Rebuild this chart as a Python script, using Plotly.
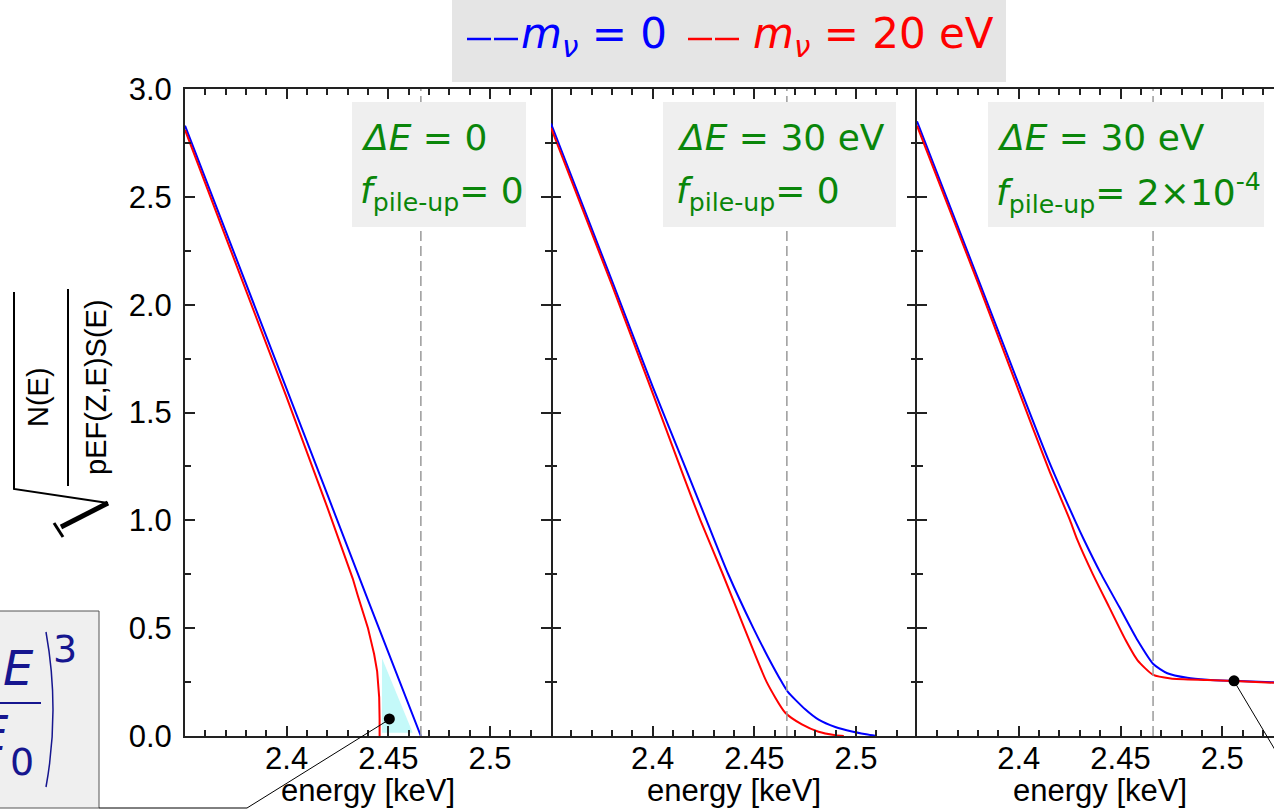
import plotly.graph_objects as go

W, H = 1274, 811

# ---------------- data ----------------
E0 = 2.466                       # endpoint (dashed line)
x_tickvals = [2.35, 2.40, 2.45, 2.50]
x_ticktext = ["", "2.4", "2.45", "2.5"]

# panel 1 : dE = 0, f_pile-up = 0
E1_blue = [2.35, 2.38, 2.40, 2.42, 2.44, 2.466]
K1_blue = [2.83, 2.10, 1.61, 1.12, 0.63, 0.00]
E1_red = [2.35, 2.38, 2.40, 2.42, 2.425, 2.43, 2.4325, 2.435, 2.4375, 2.44, 2.4415,
          2.443, 2.4445, 2.4452, 2.4455, 2.4457, 2.4457]
K1_red = [2.81, 2.07, 1.57, 1.06, 0.93, 0.80, 0.73, 0.65, 0.58, 0.50, 0.44,
          0.38, 0.30, 0.235, 0.18, 0.08, 0.00]
fill1_E = [2.4469, 2.4469, 2.4620, 2.4469]
fill1_K = [0.36, 0.015, 0.015, 0.36]

# panel 2 : dE = 30 eV, f_pile-up = 0
E2_blue = [2.35, 2.38, 2.40, 2.415, 2.4265, 2.4372, 2.4495, 2.4565, 2.4635, 2.4665,
           2.475, 2.4816, 2.4898, 2.498, 2.505, 2.51]
K2_blue = [2.84, 2.11, 1.62, 1.27, 1.00, 0.75, 0.50, 0.37, 0.25, 0.205,
           0.124, 0.076, 0.042, 0.021, 0.008, 0.0]
E2_red = [2.35, 2.38, 2.40, 2.415, 2.4235, 2.4345, 2.4451, 2.4561, 2.4652, 2.4734,
          2.4816, 2.4898, 2.494]
K2_red = [2.82, 2.09, 1.59, 1.21, 1.00, 0.75, 0.50, 0.25, 0.108, 0.054,
          0.020, 0.004, 0.0]

# panel 3 : dE = 30 eV, f_pile-up = 2e-4
E3_blue = [2.35, 2.38, 2.40, 2.415, 2.4276, 2.4321, 2.4403, 2.4493, 2.4583, 2.4661,
           2.4730, 2.4828, 2.4927, 2.505, 2.5254]
K3_blue = [2.85, 2.12, 1.63, 1.27, 1.00, 0.909, 0.754, 0.600, 0.445, 0.334,
           0.291, 0.270, 0.261, 0.256, 0.249]
E3_red = [2.35, 2.38, 2.40, 2.415, 2.4252, 2.4288, 2.4362, 2.4443, 2.4525, 2.4583,
          2.4661, 2.4747, 2.4927, 2.5058, 2.5254]
K3_red = [2.83, 2.10, 1.60, 1.23, 1.00, 0.909, 0.754, 0.600, 0.445, 0.352,
          0.283, 0.267, 0.260, 0.255, 0.247]

dot1_E, dot1_K = [2.4505], [0.079]
dot3_E, dot3_K = [2.5058], [0.256]

box_line1 = ["<i>Δ</i><i>E</i> = 0", "<i>Δ</i><i>E</i> = 30 eV", "<i>Δ</i><i>E</i> = 30 eV"]
box_line2 = ["<i>f</i><sub>pile-up</sub>= 0", "<i>f</i><sub>pile-up</sub>= 0",
             "<i>f</i><sub>pile-up</sub>= 2×10<sup>-4</sup>"]

# ---------------- helpers ----------------
def X(p):
    return p / W

def Y(p):
    return 1 - p / H

BLUE, RED, GREEN, NAVY = "#0000ff", "#ff0000", "#0a860a", "#16168f"
AX = "#222222"
HELV = "Liberation Sans, Arial, sans-serif"
TICKFONT = dict(family=HELV, size=31, color="black")

fig = go.Figure()

fig.add_trace(go.Scatter(x=fill1_E, y=fill1_K, fill="toself", fillcolor="#c4f9f9",
                         mode="lines", line=dict(width=0), xaxis="x", yaxis="y",
                         hoverinfo="skip"))

panels = [("x", "y", E1_blue, K1_blue, E1_red, K1_red, "linear"),
          ("x2", "y2", E2_blue, K2_blue, E2_red, K2_red, "spline"),
          ("x3", "y3", E3_blue, K3_blue, E3_red, K3_red, "spline")]
for xa, ya, eb, kb, er, kr, shp in panels:
    fig.add_trace(go.Scatter(x=eb, y=kb, mode="lines",
                             line=dict(color=BLUE, width=2, shape=shp, smoothing=0.6),
                             xaxis=xa, yaxis=ya))
    fig.add_trace(go.Scatter(x=er, y=kr, mode="lines",
                             line=dict(color=RED, width=2, shape=shp, smoothing=0.6),
                             xaxis=xa, yaxis=ya))

fig.add_trace(go.Scatter(x=dot1_E, y=dot1_K, mode="markers",
                         marker=dict(color="black", size=11), xaxis="x", yaxis="y"))
fig.add_trace(go.Scatter(x=dot3_E, y=dot3_K, mode="markers",
                         marker=dict(color="black", size=11), xaxis="x3", yaxis="y3"))

# ---------------- axes ----------------
left = [185, 551, 917]
right = [551, 917, W]
ranges = [[2.35, 2.53], [2.35, 2.53], [2.35, 2.35 + (W - 917) / 2035.0]]
ydom = [Y(736), Y(89)]

layout_axes = {}
for i in range(3):
    sfx = "" if i == 0 else str(i + 1)
    layout_axes["xaxis" + sfx] = dict(
        domain=[X(left[i]), X(right[i])], range=ranges[i], anchor="y" + sfx,
        showline=True, linecolor=AX, linewidth=2, mirror="allticks",
        ticks="inside", ticklen=10, tickwidth=1.5, tickcolor=AX,
        tickmode="array", tickvals=x_tickvals, ticktext=x_ticktext,
        minor=dict(tickmode="linear", tick0=2.35, dtick=0.01, ticks="inside",
                   ticklen=6, tickwidth=1.5, tickcolor=AX),
        showgrid=False, zeroline=False, tickfont=TICKFONT, ticklabelstandoff=-6,
        automargin=False)
    layout_axes["yaxis" + sfx] = dict(
        domain=ydom, range=[0, 3], anchor="x" + sfx,
        showline=(i != 1), linecolor=AX, linewidth=2,
        mirror=("allticks" if i < 2 else False),
        ticks="inside", ticklen=10, tickwidth=1.5, tickcolor=AX,
        tick0=0, dtick=0.5, tickformat=".1f",
        minor=dict(dtick=0.25, ticks="inside", ticklen=6, tickwidth=1.5, tickcolor=AX),
        showgrid=False, zeroline=False, tickfont=TICKFONT,
        showticklabels=(i == 0), ticklabelstandoff=5, automargin=False)

# ---------------- shapes ----------------
shapes = []
for i in range(3):
    sfx = "" if i == 0 else str(i + 1)
    shapes.append(dict(type="line", xref="x" + sfx, yref="y" + sfx, x0=E0, x1=E0, y0=0, y1=3,
                       line=dict(color="#9a9a9a", width=1.5, dash="10px,5px")))

boxes = [(352, 526), (663, 896), (988, 1264)]
for (a, b) in boxes:
    shapes.append(dict(type="rect", xref="paper", yref="paper", x0=X(a), x1=X(b),
                       y0=Y(227), y1=Y(102), fillcolor="#efefef", line=dict(width=0)))

# header box
shapes.append(dict(type="rect", xref="paper", yref="paper", x0=X(452), x1=X(1006),
                   y0=Y(82), y1=Y(-5), fillcolor="#e5e5e5", line=dict(width=0)))
# legend line samples
for (a, b, c) in [(467, 491, BLUE), (494, 518, BLUE), (688, 712, RED), (715, 739, RED)]:
    shapes.append(dict(type="line", xref="paper", yref="paper", x0=X(a), x1=X(b),
                       y0=Y(39), y1=Y(39), line=dict(color=c, width=2.5)))

# bottom-left formula box + connector
shapes.append(dict(type="rect", xref="paper", yref="paper", x0=X(-6), x1=X(99),
                   y0=Y(808), y1=Y(611), fillcolor="#efefef", line=dict(color="#555555", width=1)))
shapes.append(dict(type="path", xref="paper", yref="paper",
                   path=f"M {X(99)},{Y(808)} L {X(247)},{Y(808)} L {X(390)},{Y(719)}",
                   line=dict(color="black", width=1)))
shapes.append(dict(type="line", xref="paper", yref="paper", x0=X(-6), x1=X(41),
                   y0=Y(703), y1=Y(703), line=dict(color=NAVY, width=2)))
shapes.append(dict(type="path", xref="paper", yref="paper",
                   path=f"M {X(46)},{Y(632)} Q {X(60)},{Y(710)} {X(46)},{Y(787)}",
                   line=dict(color=NAVY, width=1.5)))
# panel 3 connector
shapes.append(dict(type="line", xref="paper", yref="paper", x0=X(1234), x1=X(1290),
                   y0=Y(681), y1=Y(775), line=dict(color="black", width=1)))

# y-axis title: square-root sign and fraction bar (rotated)
shapes.append(dict(type="line", xref="paper", yref="paper", x0=X(68), x1=X(68),
                   y0=Y(486), y1=Y(289), line=dict(color="black", width=2)))
shapes.append(dict(type="path", xref="paper", yref="paper",
                   path=f"M {X(14)},{Y(292)} L {X(14)},{Y(489)} L {X(108)},{Y(503)}",
                   line=dict(color="black", width=2)))
shapes.append(dict(type="line", xref="paper", yref="paper", x0=X(108), x1=X(61),
                   y0=Y(503), y1=Y(527), line=dict(color="black", width=5)))
shapes.append(dict(type="line", xref="paper", yref="paper", x0=X(54), x1=X(63),
                   y0=Y(523), y1=Y(537), line=dict(color="black", width=3)))

# ---------------- annotations ----------------
ann = []
def A(text, x, y, size, color="black", family="DejaVu Sans", xanchor="center",
      yanchor="middle", angle=0):
    ann.append(dict(text=text, x=X(x), y=Y(y), xref="paper", yref="paper",
                    showarrow=False, xanchor=xanchor, yanchor=yanchor, textangle=angle,
                    font=dict(family=family, size=size, color=color)))

for cx in [368, 734, 1100]:
    A("energy [keV]", cx, 790, 31, family=HELV)

A("N(E)", 38, 397, 29, family=HELV, angle=-90)
A("pEF(Z,E)S(E)", 96, 387, 29, family=HELV, angle=-90)

starts = [359, 675, 995]
for i in range(3):
    A(box_line1[i], starts[i], 137, 36, color=GREEN, xanchor="left")
    A(box_line2[i], starts[i] - 1, 193, 36, color=GREEN, xanchor="left")

A("<i>m</i><sub><i>ν</i></sub> = 0", 519, 36, 42, color=BLUE, xanchor="left")
A("<i>m</i><sub><i>ν</i></sub> = 20 eV", 751, 36, 42, color=RED, xanchor="left")

A("<i>E</i>", 36, 668, 48, color=NAVY, xanchor="right")
A("<i>E</i>", 11, 733, 48, color=NAVY, xanchor="right")
A("0", 22, 762, 38, color=NAVY)
A("3", 65, 649, 38, color=NAVY)

fig.update_layout(
    width=W, height=H, margin=dict(l=0, r=0, t=0, b=0, autoexpand=False),
    paper_bgcolor="white", plot_bgcolor="white", showlegend=False,
    shapes=shapes, annotations=ann, **layout_axes)

fig.write_html("out.html", config={"displayModeBar": False},
               post_script="document.body.style.margin='0';document.body.style.overflow='hidden';")
